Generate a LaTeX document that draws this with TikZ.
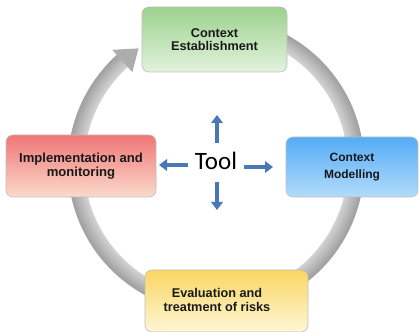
\documentclass[tikz,border=0pt]{standalone}
\usepackage{fontspec}
\setmainfont{Liberation Sans}
\newfontfamily\toolfont{Carlito}
\usetikzlibrary{calc,arrows.meta}
\definecolor{grnT}{RGB}{156,210,142}
\definecolor{grnB}{RGB}{226,242,220}
\definecolor{redT}{RGB}{240,118,118}
\definecolor{redB}{RGB}{250,218,204}
\definecolor{bluT}{RGB}{84,172,246}
\definecolor{bluB}{RGB}{178,220,251}
\definecolor{yelT}{RGB}{250,214,98}
\definecolor{yelB}{RGB}{254,246,214}
\definecolor{boxline}{RGB}{190,190,190}
\definecolor{arrblue}{RGB}{72,120,182}
\begin{document}
\begin{tikzpicture}[x=1pt,y=1pt,
  boxtext/.style={align=center, font=\fontsize{12.7}{13.5}\selectfont\bfseries, inner sep=0pt, text=black!90},
  box/.style={boxtext, draw=boxline, line width=0.6pt, rounded corners=7pt},
  barrow/.style={line width=4.8pt, draw=arrblue, -{Triangle[length=8pt,width=11.5pt]}}]
\useasboundingbox (0,0) rectangle (419,331);
\coordinate (C) at (216,166);
% grey ring
\foreach \i in {0,...,7} {
  \pgfmathsetmacro\rr{133+2*\i}
  \pgfmathsetmacro\sh{18+2.6*\i}
  \draw[line width=2.4pt, color=black!\sh] ($(C)+(100:\rr)$) arc[start angle=100, end angle=-229, radius=\rr];
}
\fill[black!32] ($(C)+(132:125)$) -- ($(C)+(123.6:140)$) -- ($(C)+(132:155)$) -- cycle;
% boxes
\node[box, top color=grnT, bottom color=grnB, minimum width=145pt, minimum height=65pt] (ce) at (214.5,291.5) {Context\\Establishment};
\node[box, top color=redT, bottom color=redB, minimum width=150pt, minimum height=62pt,
  font=\fontsize{13.1}{13.5}\selectfont\bfseries] (im) at (81,165) {Implementation and\\monitoring};
\node[box, top color=bluT, bottom color=bluB, minimum width=132pt, minimum height=60pt,
  font=\fontsize{12}{17}\selectfont\bfseries] (cm) at (352,164) {Context\\Modelling};
\node[box, top color=yelT, bottom color=yelB, minimum width=163pt, minimum height=62pt] (ev) at (226.5,30) {};
\node[boxtext] (evt) at (217,31) {Evaluation and\\treatment of risks};
% tool
\node[font=\toolfont\fontsize{25}{25}\selectfont, anchor=base, inner sep=0pt] (tool) at (216,161) {Tool};
\coordinate (u0) at (217,188); \coordinate (u1) at (217,216);
\coordinate (d0) at (217,149); \coordinate (d1) at (217,121);
\coordinate (r0) at (244,164); \coordinate (r1) at (273,164);
\coordinate (l0) at (188,166); \coordinate (l1) at (159,166);
\draw[barrow] (u0) -- (u1);
\draw[barrow] (d0) -- (d1);
\draw[barrow] (r0) -- (r1);
\draw[barrow] (l0) -- (l1);
\end{tikzpicture}
\end{document}
